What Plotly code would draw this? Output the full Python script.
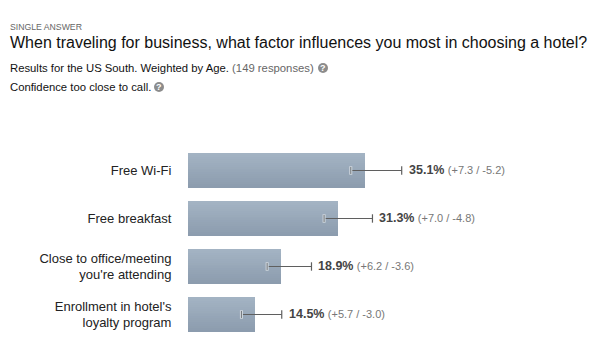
import plotly.graph_objects as go

categories = ["Free Wi-Fi", "Free breakfast", "Close to office/meeting<br>you're attending",
              "Enrollment in hotel's<br>loyalty program"]
shown_pct = ["35.1%", "31.3%", "18.9%", "14.5%"]
shown_margin = ["(+7.3 / -5.2)", "(+7.0 / -4.8)", "(+6.2 / -3.6)", "(+5.7 / -3.0)"]
# lengths as drawn in the picture
bar_values = [35.1, 29.8, 18.5, 13.3]
ci_low = [32.3, 27.0, 15.7, 10.6]
ci_high = [42.4, 36.6, 24.5, 18.6]

OFF = 8  # page body margin
W, H = 612 - OFF, 353 - OFF
L, R, T, B = 188 - OFF, 0, 146 - OFF, 15
PW, PH = W - L - R, H - T - B
FONT = "Liberation Sans, Arial, sans-serif"
ys = list(range(len(categories)))

def px(x): return (x - OFF - L) / PW
def py(y): return 1 - (y - OFF - T) / PH

fig = go.Figure()

# vertical gradient built from thin overlaid bar bands
N = 18
BAR_W = 0.729
top, bot = (163, 179, 195), (140, 156, 174)
for i in range(N):
    t = i / (N - 1)
    c = tuple(round(a + (b - a) * t) for a, b in zip(top, bot))
    fig.add_trace(go.Bar(
        y=ys, x=bar_values, orientation="h",
        offset=-BAR_W / 2 + BAR_W * i / N, width=BAR_W / N + 0.004,
        marker=dict(color=f"rgb{c}", line_width=0),
        showlegend=False, hoverinfo="skip"))

for lo, hi, y in zip(ci_low, ci_high, ys):
    fig.add_trace(go.Scatter(x=[lo, hi], y=[y, y], mode="lines",
                             line=dict(color="#5f5f5f", width=1.2),
                             showlegend=False, hoverinfo="skip"))
fig.add_trace(go.Scatter(x=ci_low, y=ys, mode="markers",
                         marker=dict(symbol="line-ns", size=6, line=dict(color="#d3dae0", width=3)),
                         showlegend=False, hoverinfo="skip"))
fig.add_trace(go.Scatter(x=ci_low, y=ys, mode="markers",
                         marker=dict(symbol="line-ns", size=5, line=dict(color="#6f7478", width=1)),
                         showlegend=False, hoverinfo="skip"))
fig.add_trace(go.Scatter(x=ci_high, y=ys, mode="markers",
                         marker=dict(symbol="line-ns", size=6, line=dict(color="#5f5f5f", width=1.2)),
                         showlegend=False, hoverinfo="skip"))

ann = []
for hi, y, p, m in zip(ci_high, ys, shown_pct, shown_margin):
    ann.append(dict(x=hi, y=y, xref="x", yref="y", xanchor="left", yanchor="middle", xshift=5, showarrow=False,
                    text=f"<b><span style='font-size:12.5px;color:#444'>{p}</span></b>"
                         f" <span style='font-size:11px;color:#777'>{m}</span>",
                    font=dict(family=FONT)))

def head(x, y, text, size, color="#000"):
    ann.append(dict(x=px(x), y=py(y), xref="paper", yref="paper", xanchor="left", yanchor="middle",
                    showarrow=False, text=text, font=dict(family=FONT, size=size, color=color),
                    borderpad=0, borderwidth=0))

head(10, 27, "SINGLE ANSWER", 8.7, "#666")
head(10, 42, "When traveling for business, what factor influences you most in choosing a hotel?", 16, "#111")
head(10, 68, "Results for the US South. Weighted by Age. <span style='color:#666'>(149 responses)</span>", 11.3, "#111")
head(10, 87, "Confidence too close to call.", 11.3, "#111")

shapes = []
for cx, cy in [(323, 68), (159, 87)]:
    shapes.append(dict(type="circle", xref="paper", yref="paper", layer="above",
                       x0=px(cx - 5), x1=px(cx + 5), y0=py(cy + 5), y1=py(cy - 5),
                       fillcolor="#8c8c8c", line_width=0))
    ann.append(dict(x=px(cx), y=py(cy), xref="paper", yref="paper", showarrow=False, text="<b>?</b>",
                    font=dict(family=FONT, size=9, color="#fff"), xanchor="center", yanchor="middle"))

fig.update_layout(
    width=W, height=H, autosize=False, barmode="overlay", bargap=0,
    margin=dict(l=L, r=R, t=T, b=B, pad=0),
    paper_bgcolor="#fff", plot_bgcolor="#fff",
    annotations=ann, shapes=shapes, showlegend=False,
    xaxis=dict(range=[0, PW / 5.04], visible=False, fixedrange=True),
    yaxis=dict(range=[3.49, -0.51], tickmode="array", tickvals=ys, ticktext=categories,
               showgrid=False, zeroline=False, showline=False, ticks="outside", ticklen=13,
               tickcolor="rgba(0,0,0,0)", tickfont=dict(family=FONT, size=13, color="#222"), fixedrange=True),
)
fig.write_html("out.html", config=dict(displayModeBar=False))
